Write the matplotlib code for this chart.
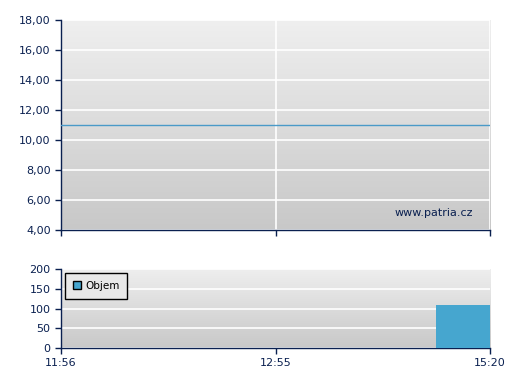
import numpy as np
import matplotlib
matplotlib.use("Agg")
import matplotlib.pyplot as plt
from matplotlib.patches import Patch

# data
time_labels = ["11:56", "12:55", "15:20"]
time_pos = [0, 1, 2]
price_x = [0, 2]
price_y = [11.0, 11.0]
volume_left = [1.75]
volume_width = [0.25]
volume = [110]

price_ticks = [4, 6, 8, 10, 12, 14, 16, 18]
volume_ticks = [0, 50, 100, 150, 200]

NAVY = "#0a2050"
LINE = "#4a9ac8"
BAR = "#46a6cf"


def style_axes(ax):
    grad = np.linspace(0, 1, 256).reshape(-1, 1)
    ax.imshow(grad, extent=[0, 1, 0, 1], transform=ax.transAxes,
              cmap=matplotlib.colors.LinearSegmentedColormap.from_list(
                  "bg", ["#efefef", "#c8c8c8"]),
              aspect="auto", zorder=0)
    for side in ("top", "right"):
        ax.spines[side].set_visible(False)
    for side in ("left", "bottom"):
        ax.spines[side].set_color(NAVY)
        ax.spines[side].set_linewidth(1.0)
    ax.tick_params(colors=NAVY, labelcolor=NAVY, direction="out", length=4,
                   width=1, labelsize=8)
    ax.set_xlim(0, 2)
    ax.set_xticks(time_pos)
    ax.grid(True, color="white", linewidth=1.2, zorder=1)
    ax.set_axisbelow(True)


fig = plt.figure(figsize=(5.07, 3.80), dpi=100)

ax1 = fig.add_axes([0.1203, 0.3947, 0.8462, 0.5526])
style_axes(ax1)
ax1.plot(price_x, price_y, color=LINE, linewidth=1, zorder=3)
ax1.set_ylim(4, 18)
ax1.set_yticks(price_ticks)
ax1.set_yticklabels([f"{v:.2f}".replace(".", ",") for v in price_ticks])
ax1.set_xticklabels([])
ax1.text(0.96, 0.08, "www.patria.cz", transform=ax1.transAxes, ha="right",
         va="center", color=NAVY, fontsize=8)

ax2 = fig.add_axes([0.1203, 0.0842, 0.8462, 0.2079])
style_axes(ax2)
ax2.xaxis.grid(False)
ax2.bar(volume_left, volume, width=volume_width, align="edge", color=BAR,
        zorder=3)
ax2.set_ylim(0, 200)
ax2.set_yticks(volume_ticks)
ax2.set_xticklabels(time_labels)
leg = ax2.legend(handles=[Patch(facecolor=BAR, edgecolor="black", label="Objem")],
                 loc="upper left", fontsize=7.5, fancybox=False, framealpha=1,
                 handlelength=0.8, handleheight=0.8, borderpad=0.75,
                 handletextpad=0.4, borderaxespad=0,
                 bbox_to_anchor=(0.009, 0.95))
leg.get_frame().set_edgecolor("black")
leg.get_frame().set_facecolor("#e8e8e8")

fig.savefig("out.png", dpi=100)
